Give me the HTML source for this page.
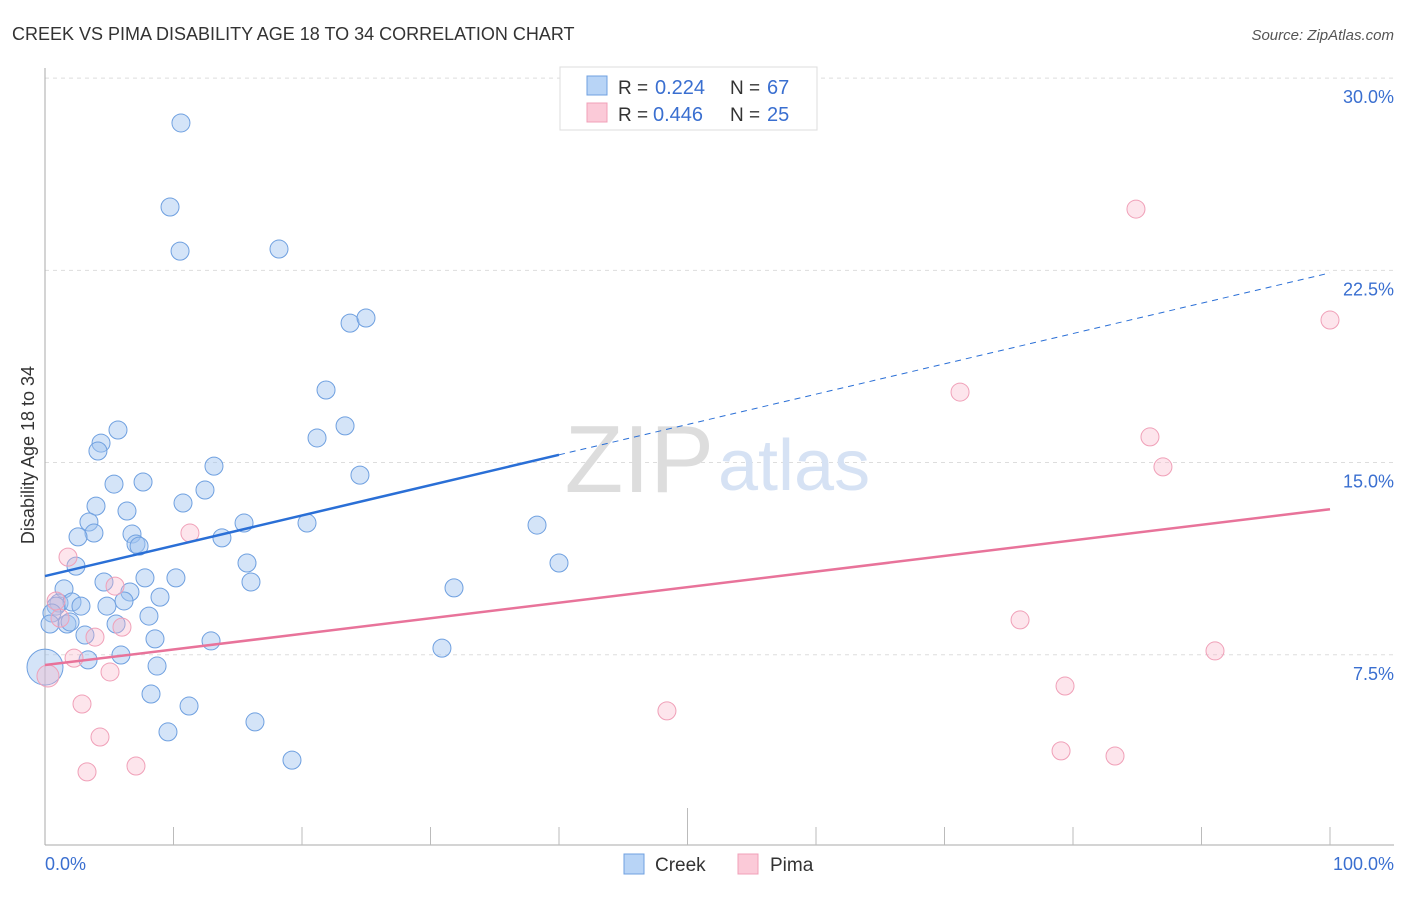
<!DOCTYPE html>
<html><head><meta charset="utf-8"><style>
body{margin:0;background:#fff;font-family:"Liberation Sans",sans-serif;}
svg text{font-family:"Liberation Sans",sans-serif;}
</style></head><body>
<svg id="chart" width="1406" height="892">
<text x="12" y="40" font-size="18" fill="#333">CREEK VS PIMA DISABILITY AGE 18 TO 34 CORRELATION CHART</text>
<text x="1394" y="40" font-size="15" fill="#555" text-anchor="end" font-style="italic">Source: ZipAtlas.com</text>
<g id="grid"></g>
<text x="714" y="492" font-size="96" fill="#ddd" text-anchor="end" font-family="Liberation Serif">ZIP</text>
<text x="718" y="490" font-size="72" fill="#d6e2f4">atlas</text>
<g id="marks"></g>
<text transform="translate(34,455) rotate(-90)" font-size="18" fill="#333" text-anchor="middle">Disability Age 18 to 34</text>
<text x="45" y="870" font-size="18" fill="#3a6fd0">0.0%</text>
<text x="1394" y="870" font-size="18" fill="#3a6fd0" text-anchor="end">100.0%</text>
<g>
<rect x="624" y="854" width="20" height="20" fill="#b8d4f6" stroke="#6fa0e0"/>
<text x="655" y="871" font-size="19" fill="#333">Creek</text>
<rect x="738" y="854" width="20" height="20" fill="#fbcad8" stroke="#f0a0b8"/>
<text x="770" y="871" font-size="19" fill="#333">Pima</text>
</g>
<g>
<rect x="560" y="67" width="257" height="63" fill="#fff" stroke="#ddd"/>
<rect x="587" y="76" width="20" height="19" fill="#b8d4f6" stroke="#6fa0e0"/>
<text x="618" y="94" font-size="19" fill="#333">R =</text>
<text x="655" y="94" font-size="20" fill="#3a6fd0">0.224</text>
<text x="730" y="94" font-size="19" fill="#333">N =</text>
<text x="767" y="94" font-size="20" fill="#3a6fd0">67</text>
<rect x="587" y="103" width="20" height="19" fill="#fbcad8" stroke="#f0a0b8"/>
<text x="618" y="121" font-size="19" fill="#333">R =</text>
<text x="653" y="121" font-size="20" fill="#3a6fd0">0.446</text>
<text x="730" y="121" font-size="19" fill="#333">N =</text>
<text x="767" y="121" font-size="20" fill="#3a6fd0">25</text>
</g>
</svg>
<script>
const yTicks=[7.5,15,22.5,30];
const yTickLabels=["7.5%","15.0%","22.5%","30.0%"];
const creekX=[10.58,9.73,10.51,18.21,23.74,24.98,21.87,23.35,21.17,24.51,5.68,4.36,4.12,13.15,5.37,7.63,12.45,10.74,3.97,6.38,3.42,15.49,20.39,38.29,3.81,6.77,2.57,13.77,7.08,7.32,2.41,15.72,40.0,7.78,10.19,4.59,16.03,1.48,6.61,8.95,31.83,1.09,2.10,0.86,2.80,4.82,6.15,8.09,0.54,1.71,1.95,5.53,0.39,8.56,3.11,12.92,30.89,5.91,3.35,8.72,0,8.25,11.21,9.57,16.34,19.22];
const creekY=[28.25,24.97,23.25,23.33,20.44,20.64,17.83,16.43,15.96,14.51,16.27,15.76,15.45,14.86,14.16,14.24,13.93,13.42,13.30,13.11,12.68,12.64,12.64,12.56,12.25,12.21,12.10,12.06,11.82,11.74,10.96,11.08,11.08,10.50,10.50,10.34,10.34,10.07,9.95,9.75,10.11,9.52,9.56,9.40,9.40,9.40,9.60,9.01,9.13,8.70,8.78,8.70,8.70,8.12,8.27,8.04,7.76,7.49,7.30,7.06,7.02,5.97,5.50,4.49,4.88,3.39];
const pimaX=[84.90,100,71.21,85.99,87.00,11.28,1.79,5.45,0.86,1.17,3.89,5.99,2.26,5.06,0.23,2.88,4.28,7.08,3.27,48.40,75.88,79.38,91.05,79.07,83.27];
const pimaY=[24.89,20.56,17.75,16.00,14.83,12.25,11.31,10.18,9.60,8.93,8.19,8.58,7.37,6.83,6.67,5.58,4.29,3.16,2.93,5.31,8.86,6.28,7.65,3.75,3.55];
const creekTrend=[10.57,22.4];
const pimaTrend=[7.10,13.18];
const creekSolidEnd=40;
const xs=v=>45+v*12.85, ys=v=>847-v*25.63;
const NS="http://www.w3.org/2000/svg";
function mk(tag,attrs,parent){const e=document.createElementNS(NS,tag);for(const k in attrs)e.setAttribute(k,attrs[k]);parent.appendChild(e);return e;}
const grid=document.getElementById('grid'),marks=document.getElementById('marks'),svg=document.getElementById('chart');
yTicks.forEach((t,i)=>{
 const l=mk('line',{x1:45,x2:1394,y1:ys(t),y2:ys(t),stroke:'#ddd','stroke-dasharray':'4,4'},grid);
 
 
 const tx=mk('text',{x:1394,y:ys(t)+25,'font-size':18,fill:'#3a6fd0','text-anchor':'end'},svg);
 tx.textContent=yTickLabels[i];
 
 
});
const ax=mk('line',{x1:45,x2:45,y1:68,y2:845,stroke:'#aaa'},grid);


const bx=mk('line',{x1:45,x2:1394,y1:845,y2:845,stroke:'#aaa'},grid);


for(let i=1;i<=10;i++){
 const tk=mk('line',{x1:xs(i*10),x2:xs(i*10),y1:i==5?808:827,y2:845,stroke:'#bbb'},grid);
 
 
}
creekX.forEach((x,i)=>{
 const c=mk('circle',{cx:xs(x),cy:ys(creekY[i]),r:(x===0?18:9),fill:'rgba(160,196,240,0.45)',stroke:'#6fa0e0','stroke-width':1},marks);
 
 
});
pimaX.forEach((x,i)=>{
 const c=mk('circle',{cx:xs(x),cy:ys(pimaY[i]),r:(x<0.5?11:9),fill:'rgba(248,180,200,0.35)',stroke:'#f0a0b8','stroke-width':1},marks);
 
 
});
const cy=v=>creekTrend[0]+(creekTrend[1]-creekTrend[0])*v/100;
const l1=mk('line',{x1:xs(0),y1:ys(cy(0)),x2:xs(creekSolidEnd),y2:ys(cy(creekSolidEnd)),stroke:'#2a6fd6','stroke-width':2.5},marks);


const l2=mk('line',{x1:xs(creekSolidEnd),y1:ys(cy(creekSolidEnd)),x2:xs(100),y2:ys(cy(100)),stroke:'#2a6fd6','stroke-width':1,'stroke-dasharray':'6,5'},marks);


const l3=mk('line',{x1:xs(0),y1:ys(pimaTrend[0]),x2:xs(100),y2:ys(pimaTrend[1]),stroke:'#e8739a','stroke-width':2.5},marks);


</script>
</body></html>
